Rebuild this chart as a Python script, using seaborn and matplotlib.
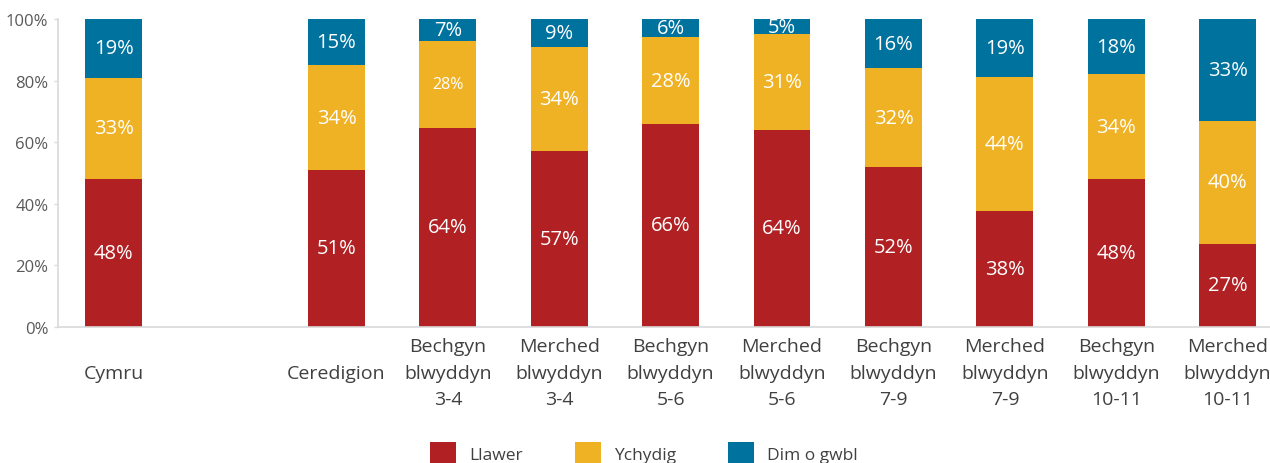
import numpy as np
import pandas as pd
import matplotlib
matplotlib.use("Agg")
import matplotlib.pyplot as plt
from matplotlib.patches import Patch
import seaborn as sns

# Categories (an empty slot separates Wales from the county breakdown)
categories = ["Cymru", "", "Ceredigion",
              "Bechgyn\nblwyddyn\n3-4", "Merched\nblwyddyn\n3-4",
              "Bechgyn\nblwyddyn\n5-6", "Merched\nblwyddyn\n5-6",
              "Bechgyn\nblwyddyn\n7-9", "Merched\nblwyddyn\n7-9",
              "Bechgyn\nblwyddyn\n10-11", "Merched\nblwyddyn\n10-11"]
groups = [c for c in categories if c]

llawer = [48, 51, 64, 57, 66, 64, 52, 38, 48, 27]
ychydig = [33, 34, 28, 34, 28, 31, 32, 44, 34, 40]
dim_o_gwbl = [19, 15, 7, 9, 6, 5, 16, 19, 18, 33]

series_names = ["Llawer", "Ychydig", "Dim o gwbl"]
colors = ["#B12124", "#EFB225", "#00729E"]

sns.set_theme(style="white")
plt.rcParams["font.family"] = ["Open Sans", "DejaVu Sans"]

df = pd.DataFrame({"group": groups, "Llawer": llawer,
                   "Ychydig": ychydig, "Dim o gwbl": dim_o_gwbl})
# 100% stacked: each group's shares scaled to fill the full column
total = df[series_names].sum(axis=1)
shares = df[series_names].div(total, axis=0) * 100
df["c1"] = shares["Llawer"]
df["c2"] = df["c1"] + shares["Ychydig"]
df["c3"] = df["c2"] + shares["Dim o gwbl"]

fig = plt.figure(figsize=(12.7, 4.64), dpi=100)
ax = fig.add_axes([58 / 1270, 136 / 464, 1 - 58 / 1270, 308 / 464])

# stacked bars drawn as layered cumulative totals
for col, color in zip(["c3", "c2", "c1"], colors[::-1]):
    sns.barplot(data=df, x="group", y=col, order=categories, color=color,
                width=0.51, saturation=1, ax=ax, linewidth=0)

pos = {c: i for i, c in enumerate(categories)}
for i, row in df.iterrows():
    x = pos[row["group"]]
    bottoms = [0, row["c1"], row["c2"]]
    for name, b in zip(series_names, bottoms):
        v = row[name]
        h = shares.loc[i, name]
        size = 11.5 if (row["group"].startswith("Bechgyn") and row["group"].endswith("3-4")
                        and name == "Ychydig") else 14.5
        ax.text(x, b + h / 2, f"{v}%", ha="center", va="center",
                color="white", fontsize=size)

ax.set_xlim(-0.5, 10.38)
ax.set_ylim(0, 100)
ax.set_yticks(np.arange(0, 101, 20))
ax.set_yticklabels([f"{t}%" for t in range(0, 101, 20)], fontsize=12, color="#595959")
ax.set_xlabel("")
ax.set_ylabel("")
ax.tick_params(axis="x", length=0, pad=33, labelsize=14, labelcolor="#404040")
for lbl in ax.get_xticklabels():
    lbl.set_va("center")
    lbl.set_linespacing(1.6)
ax.tick_params(axis="y", length=3, width=1, color="#d9d9d9", pad=4, left=True)

for s in ["top", "right"]:
    ax.spines[s].set_visible(False)
for s in ["left", "bottom"]:
    ax.spines[s].set_color("#d9d9d9")
    ax.spines[s].set_linewidth(1.2)

handles = [Patch(facecolor=c, edgecolor="none", label=n) for n, c in zip(series_names, colors)]
fig.legend(handles=handles, loc="center", bbox_to_anchor=(0.507, 10 / 464), ncol=3,
           frameon=False, fontsize=12.5, handlelength=1.5, handleheight=1.6,
           handletextpad=0.75, columnspacing=3.0, labelcolor="#404040")

fig.savefig("out.png", dpi=100)
